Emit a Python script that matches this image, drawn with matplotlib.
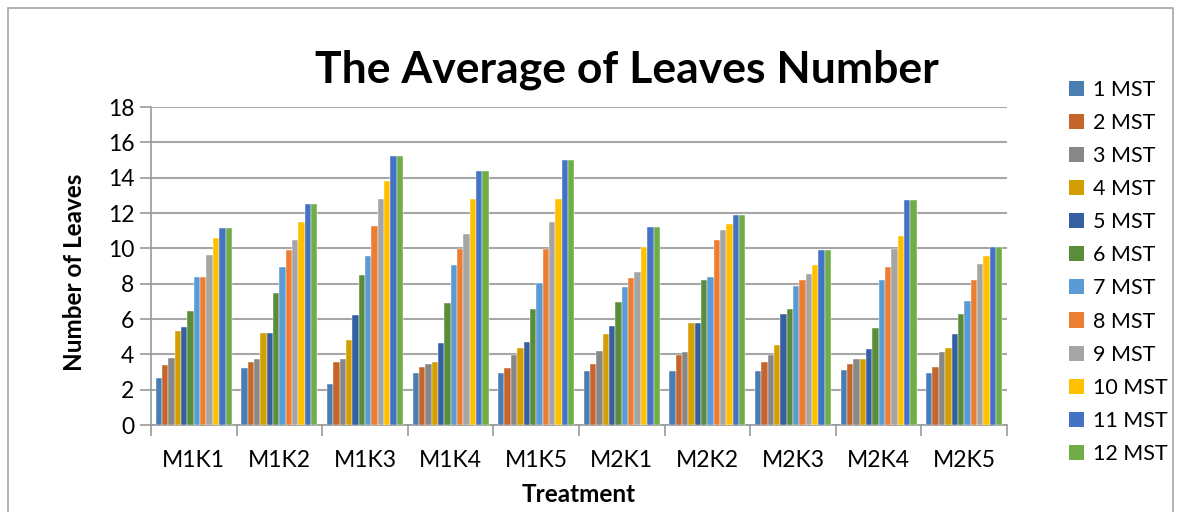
import matplotlib
matplotlib.use("Agg")
import matplotlib.pyplot as plt
from matplotlib.patches import Rectangle, Patch
import numpy as np

plt.rcParams['font.family'] = ['Lato', 'DejaVu Sans']

treatments = ["M1K1", "M1K2", "M1K3", "M1K4", "M1K5",
              "M2K1", "M2K2", "M2K3", "M2K4", "M2K5"]
series_names = ["1 MST", "2 MST", "3 MST", "4 MST", "5 MST", "6 MST",
                "7 MST", "8 MST", "9 MST", "10 MST", "11 MST", "12 MST"]

# rows = treatments, columns = weeks (MST)
M1K1 = [2.65, 3.38, 3.79, 5.30, 5.53, 6.45, 8.40, 8.40, 9.64, 10.57, 11.13, 11.13]
M1K2 = [3.23, 3.55, 3.72, 5.21, 5.21, 7.45, 8.96, 9.89, 10.47, 11.47, 12.49, 12.49]
M1K3 = [2.30, 3.55, 3.72, 4.81, 6.21, 8.47, 9.55, 11.26, 12.77, 13.81, 15.23, 15.23]
M1K4 = [2.96, 3.28, 3.45, 3.55, 4.64, 6.89, 9.06, 9.98, 10.79, 12.79, 14.40, 14.40]
M1K5 = [2.96, 3.21, 3.96, 4.38, 4.72, 6.55, 8.04, 9.98, 11.47, 12.79, 14.98, 14.98]
M2K1 = [3.04, 3.45, 4.21, 5.13, 5.62, 6.96, 7.79, 8.30, 8.64, 10.06, 11.23, 11.23]
M2K2 = [3.04, 3.96, 4.13, 5.79, 5.79, 8.21, 8.40, 10.47, 11.06, 11.40, 11.89, 11.89]
M2K3 = [3.04, 3.55, 3.96, 4.55, 6.30, 6.55, 7.89, 8.21, 8.55, 9.06, 9.89, 9.89]
M2K4 = [3.13, 3.45, 3.72, 3.72, 4.30, 5.47, 8.21, 8.96, 9.98, 10.72, 12.74, 12.74]
M2K5 = [2.96, 3.28, 4.13, 4.38, 5.13, 6.30, 7.04, 8.21, 9.13, 9.55, 10.06, 10.06]

data = np.array([M1K1, M1K2, M1K3, M1K4, M1K5, M2K1, M2K2, M2K3, M2K4, M2K5])

colors = ["#4A7EB3", "#C5652B", "#878787", "#D29E00", "#365FA1", "#5A8D3A",
          "#5B9BD5", "#ED7D31", "#A5A5A5", "#FFC000", "#4472C4", "#70AD47"]

W, H = 1177, 512
fig = plt.figure(figsize=(W / 100, H / 100), dpi=100)
fig.patches.append(Rectangle((8 / W, -0.1), (1173 - 8) / W, 1.1 - 8 / H,
                             transform=fig.transFigure, fill=False,
                             edgecolor="#A6A6A6", linewidth=1.2))

ax = fig.add_axes([151 / W, (H - 425) / H, (1007 - 151) / W, (425 - 107) / H])

n = len(series_names)
bw = 0.89 / n
x = np.arange(len(treatments))
for i in range(n):
    ax.bar(x - 0.445 + bw * (i + 0.5), data[:, i], width=bw, color=colors[i],
           edgecolor="white", linewidth=0.3, label=series_names[i], zorder=3)

ax.set_xlim(-0.5, len(treatments) - 0.5)
ax.set_ylim(0, 18)
ax.set_yticks(np.arange(0, 19, 2))
ax.set_xticks(x)
ax.set_xticklabels(treatments)
ax.set_xticks(np.arange(-0.5, len(treatments)), minor=True)
ax.tick_params(axis='x', which='major', length=0, pad=18, labelsize=16.5)
ax.tick_params(axis='x', which='minor', length=8, color="#9A9A9A", width=1.2)
ax.tick_params(axis='y', length=8, color="#9A9A9A", width=1.2, labelsize=16.5, pad=4)
ax.grid(axis='y', color="#A6A6A6", linewidth=1.5, zorder=0)
for s in ['top', 'right']:
    ax.spines[s].set_visible(False)
for s in ['left', 'bottom']:
    ax.spines[s].set_color("#9A9A9A")
    ax.spines[s].set_linewidth(1.2)

ax.set_xlabel("Treatment", fontsize=17.5, fontweight='bold')
ax.set_ylabel("Number of Leaves", fontsize=17.5, fontweight='bold')
ax.xaxis.set_label_coords(0.5, -(495 - 425) / 318)
ax.yaxis.set_label_coords(-(151 - 75) / 856, 0.48)
ax.xaxis.label.set_va('center')
ax.yaxis.label.set_va('center')

fig.text(627 / W, (H - 70) / H, "The Average of Leaves Number", fontsize=32,
         fontweight='bold', ha='center', va='center')

handles = [Patch(facecolor=c, edgecolor='none') for c in colors]
fig.legend(handles, series_names, loc='upper left',
           bbox_to_anchor=(1060 / W, (H - 71) / H), frameon=False,
           fontsize=15.5, handlelength=0.7, handleheight=0.7,
           handletextpad=0.45, labelspacing=0.61, borderaxespad=0)

fig.savefig("out.png", dpi=100)
